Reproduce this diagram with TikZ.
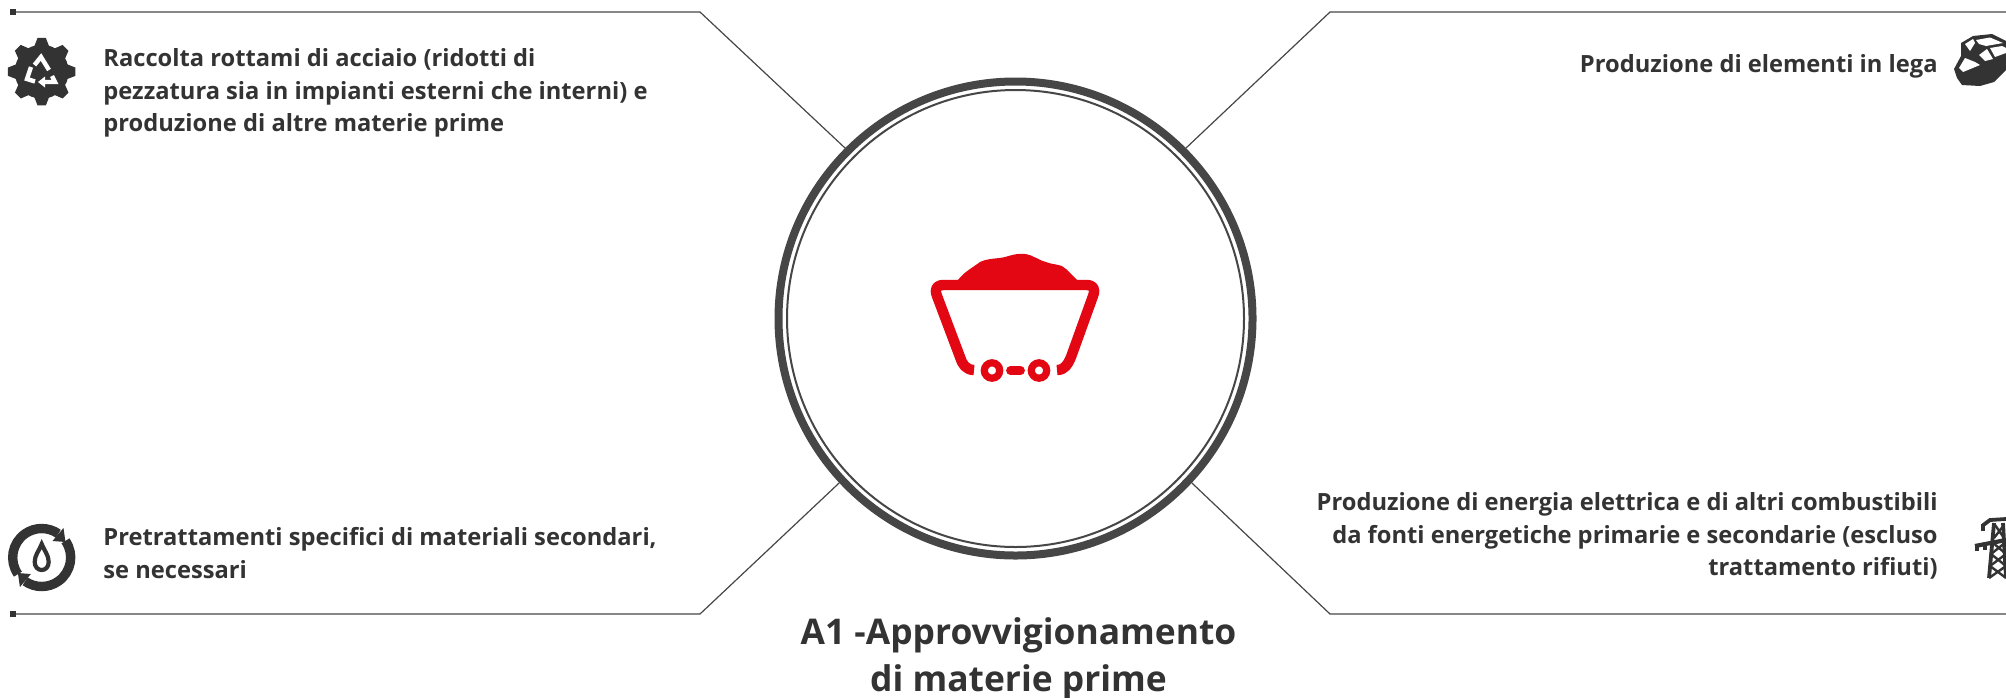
\documentclass[tikz,border=0pt]{standalone}
\usepackage{fontspec}
\setmainfont{Open Sans}
\usetikzlibrary{positioning}
\definecolor{textgrey}{HTML}{333333}
\definecolor{ringgrey}{HTML}{464646}
\definecolor{cartred}{HTML}{E30613}
\begin{document}
\begin{tikzpicture}[x=0.5pt,y=-0.5pt,
		line node/.style={ringgrey,line width=0.6pt},
		left text/.style={text=textgrey,font=\fontsize{11.85}{16.3}\selectfont\bfseries,align=left,anchor=west,inner sep=0pt},
		right text/.style={text=textgrey,font=\fontsize{11.85}{16.3}\selectfont\bfseries,align=right,anchor=east,inner sep=0pt},
		title node/.style={text=textgrey,font=\fontsize{17.7}{23.5}\selectfont\bfseries,align=center,inner sep=0pt}]
		\useasboundingbox (0,0) rectangle (2006,697);
		% cerchi
		\node[circle,draw=ringgrey,line width=4pt,minimum size=237pt,inner sep=0pt] (ring) at (1015.5,318.5) {};
		\node[circle,draw=ringgrey,line width=1pt,minimum size=228.5pt,inner sep=0pt] (inner) at (1015.5,318.5) {};
		% linee
		\coordinate (tl0) at (10,12);
		\coordinate (tl1) at (700,12);
		\coordinate (tr0) at (2006,12);
		\coordinate (tr1) at (1330,12);
		\coordinate (bl0) at (10,614);
		\coordinate (bl1) at (700,614);
		\coordinate (br0) at (2006,614);
		\coordinate (br1) at (1330,614);
		\draw[line node] (tl0) -- (tl1) -- (ring.135);
		\draw[line node] (tr0) -- (tr1) -- (ring.45);
		\draw[line node] (bl0) -- (bl1) -- (ring.223);
		\draw[line node] (br0) -- (br1) -- (ring.-43);
		\fill[textgrey] (10,9) rectangle (16,15);
		\fill[textgrey] (10,611) rectangle (16,617);
		% testi
		\node[left text] (scrap) at (103,93) {Raccolta rottami di acciaio (ridotti di\\pezzatura sia in impianti esterni che interni) e\\produzione di altre materie prime};
		\node[left text] (pre) at (103,553) {Pretrattamenti specifici di materiali secondari,\\se necessari};
		\node[right text] (alloy) at (1938,66.5) {Produzione di elementi in lega};
		\node[right text] (energy) at (1938,536) {Produzione di energia elettrica e di altri combustibili\\da fonti energetiche primarie e secondarie (escluso\\trattamento rifiuti)};
		\node[title node] (title) at (1018.5,659) {A1 -Approvvigionamento\\di materie prime};
		% carrello
		\fill[cartred] (958,280) .. controls (964,272) and (972,268) .. (980,262) .. controls (988,258) and (997,259) .. (1005,257) .. controls (1012,255) and (1018,253) .. (1025,254) .. controls (1033,255) and (1038,260) .. (1046,262) .. controls (1053,265) and (1062,264) .. (1066,269) -- (1077,280) -- (1077,288) -- (958,288) -- cycle;
		\draw[cartred,line width=5.2pt,line join=round] (974,370) .. controls (966,370) and (962,364) .. (960,357) -- (937,296) .. controls (934,288) and (937,285) .. (944,285) -- (1086,285) .. controls (1093,285) and (1096,288) .. (1093,296) -- (1071,357) .. controls (1068,364) and (1065,370) .. (1057,370);
		\draw[cartred,line width=3.6pt] (992,370.5) circle (7.7) (1039,370.5) circle (7.7);
		\draw[cartred,line width=4.4pt,line cap=round] (1010.5,370.5) -- (1020.5,370.5);
		% ingranaggio
		\fill[textgrey] (41.7,71.7) circle (27);
		\foreach \a in {0,45,...,315}
			\fill[textgrey,shift={(41.7,71.7)}] (\a-17:26) -- (\a-7:34) -- (\a+7:34) -- (\a+17:26) -- cycle;
		\draw[white,line width=2.2pt] (34.5,65) -- (41,57) -- (49,70);
		\draw[white,line width=2.2pt] (31,67) -- (27,79) -- (35,81.5);
		\draw[white,line width=2.2pt] (43,82) -- (55,82) -- (52,76);
		\fill[white] (38,82) -- (45,76.5) -- (45,87.5) -- cycle;
		% acqua
		\draw[textgrey,line width=4.7pt] (41.7,557.5) ++(145:29) arc (145:305:29);
		\draw[textgrey,line width=4.7pt] (41.7,557.5) ++(325:29) arc (325:485:29);
		\fill[textgrey] (63.5,528) -- (52.5,541) -- (65.5,542) -- cycle;
		\fill[textgrey] (19.9,587) -- (30.9,574) -- (17.9,573) -- cycle;
		\draw[textgrey,line width=2.1pt] (41.7,544) .. controls (39,551) and (34.7,555) .. (34.7,562) .. controls (34.7,567) and (38,570) .. (41.7,570) .. controls (45.4,570) and (48.7,567) .. (48.7,562) .. controls (48.7,555) and (44.4,551) .. (41.7,544) -- cycle;
		% rocce
		\fill[textgrey] (1954,69) -- (1961,56) -- (1961,43) -- (1973,36) -- (1992,34) -- (2006,41) -- (2006,70) -- (1994,82) -- (1980,86) -- (1962,85) -- (1957,78) -- cycle;
		\fill[white] (1965,44) -- (1973,39) -- (1975,43) -- (1970,51) -- cycle;
		\fill[white] (1976,40) -- (1990,37.5) -- (2003,43) -- (1986,46) -- (1979,44) -- cycle;
		\fill[white] (1979,55) -- (1987,49) -- (1993,59) -- (1985,61) -- cycle;
		\fill[white] (1990,48) -- (2002,46) -- (2006,48) -- (2006,53) -- (1995,57) -- cycle;
		\fill[white] (1959,68) -- (1965,58) -- (1975,62) -- (1980,65) -- (1963,72) -- cycle;
		% traliccio
		\draw[textgrey,line width=1.9pt] (1994,523) -- (1989,578) (2003,523) -- (2006,578);
		\draw[textgrey,line width=1.9pt] (1982,526) -- (1990,520) -- (2006,519);
		\draw[textgrey,line width=2.1pt] (1975,546) -- (2006,540);
		\draw[textgrey,line width=1.6pt] (1983,524) -- (1983,531) (1977,546) -- (1977,551) (1985,545) -- (1985,550);
		\draw[textgrey,line width=1.2pt] (1992,542) -- (2006,554) -- (1990,566) -- (2006,578) (2006,542) -- (1991,554) -- (2006,566) -- (1989,578);
		\draw[textgrey,line width=1.2pt] (1995,525) -- (2004,538) (2004,525) -- (1994,538);
\end{tikzpicture}
\end{document}
